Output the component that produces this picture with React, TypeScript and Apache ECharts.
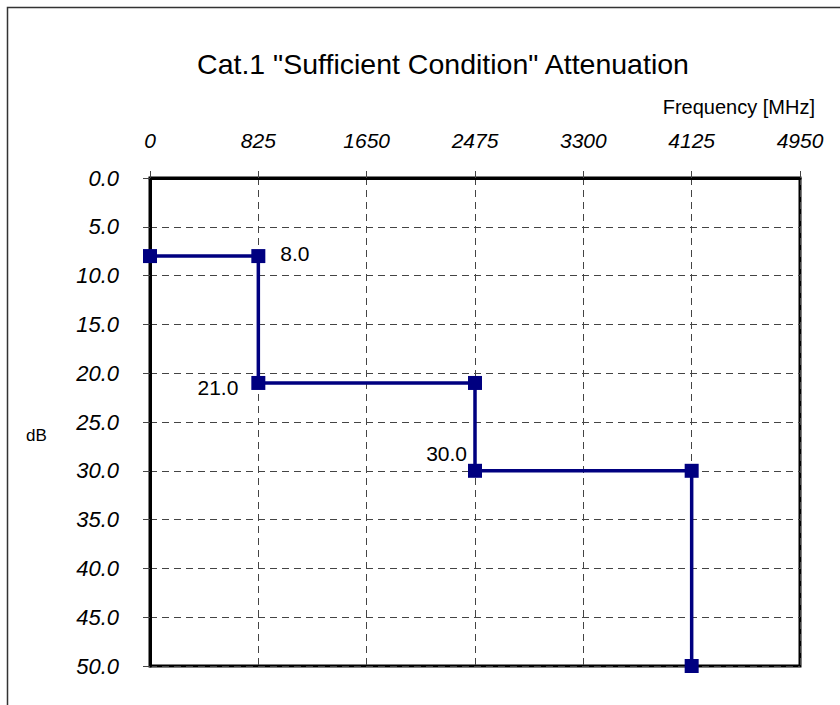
import React, { useEffect, useRef } from "react";
import * as echarts from "echarts";

const frequencies = [0, 825, 825, 2475, 2475, 4125, 4125];
const attenuation = [8, 8, 21, 21, 30, 30, 50];
const labelledPoints = [1, 2, 4];
const xTicks = { min: 0, max: 4950, interval: 825 };
const yTicks = { min: 0, max: 50, interval: 5 };
const titleText = 'Cat.1 "Sufficient Condition" Attenuation';
const xName = "Frequency [MHz]";
const yName = "dB";

const FONT = "Liberation Sans, Arial, sans-serif";

export default function App() {
  const ref = useRef<HTMLDivElement>(null);
  useEffect(() => {
    if (!ref.current) return;
    const chart = echarts.init(ref.current, null, { renderer: "svg" });
    const labelStyles: Record<number, any> = {
      1: { position: "right", distance: 15, offset: [0, -3] },
      2: { position: "left", distance: 13, offset: [0, 5] },
      4: { position: "left", distance: 1, offset: [0, -17] },
    };
    const data = frequencies.map((f, i) => {
      const item: any = { value: [f, attenuation[i]] };
      if (labelledPoints.includes(i)) {
        item.label = {
          show: true,
          formatter: attenuation[i].toFixed(1),
          color: "#000",
          fontSize: 21,
          fontFamily: FONT,
          ...labelStyles[i],
        };
      }
      return item;
    });
    chart.setOption({
      animation: false,
      backgroundColor: "#fff",
      title: {
        text: titleText,
        left: 438,
        textAlign: "center",
        top: 44,
        textStyle: { fontSize: 28.5, fontWeight: "normal", color: "#000", fontFamily: FONT },
      },
      graphic: [
        {
          type: "rect",
          shape: { x: 7.5, y: 7.5, width: 900, height: 800 },
          style: { fill: "none", stroke: "#333", lineWidth: 1.5 },
          silent: true,
        },
        {
          type: "text",
          x: 815,
          y: 107,
          style: {
            text: xName,
            fontSize: 20,
            fontFamily: FONT,
            fill: "#000",
            textAlign: "right",
            textVerticalAlign: "middle",
          },
        },
        {
          type: "text",
          x: 26,
          y: 435,
          style: {
            text: yName,
            fontSize: 17,
            fontFamily: FONT,
            fill: "#000",
            textAlign: "left",
            textVerticalAlign: "middle",
          },
        },
      ],
      grid: {
        left: 150,
        top: 178,
        width: 650,
        height: 488,
        show: true,
        borderColor: "#000",
        borderWidth: 3,
        backgroundColor: "transparent",
      },
      xAxis: {
        type: "value",
        position: "top",
        min: xTicks.min,
        max: xTicks.max,
        interval: xTicks.interval,
        axisLine: { show: true, lineStyle: { color: "#000", width: 3 } },
        axisTick: { show: true, length: 7, lineStyle: { color: "#444", width: 1 } },
        axisLabel: {
          margin: 27,
          fontSize: 21,
          fontStyle: "italic",
          color: "#000",
          fontFamily: FONT,
          formatter: (v: number) => String(v),
        },
        splitLine: { show: true, lineStyle: { color: "#444", width: 1, type: [7, 5] } },
      },
      yAxis: {
        type: "value",
        inverse: true,
        min: yTicks.min,
        max: yTicks.max,
        interval: yTicks.interval,
        axisLine: { show: true, lineStyle: { color: "#000", width: 3 } },
        axisTick: { show: true, length: 7, lineStyle: { color: "#444", width: 1 } },
        axisLabel: {
          margin: 31,
          fontSize: 22,
          fontStyle: "italic",
          color: "#000",
          fontFamily: FONT,
          formatter: (v: number) => v.toFixed(1),
        },
        splitLine: { show: true, lineStyle: { color: "#444", width: 1, type: [7, 5] } },
      },
      series: [
        {
          type: "line",
          data,
          symbol: "rect",
          symbolSize: 14,
          lineStyle: { color: "#000080", width: 3.5 },
          itemStyle: { color: "#000080" },
          clip: false,
        },
      ],
    });
    return () => chart.dispose();
  }, []);
  return (
    <div
      ref={ref}
      style={{ position: "fixed", left: 0, top: 0, width: 840, height: 705 }}
    />
  );
}
